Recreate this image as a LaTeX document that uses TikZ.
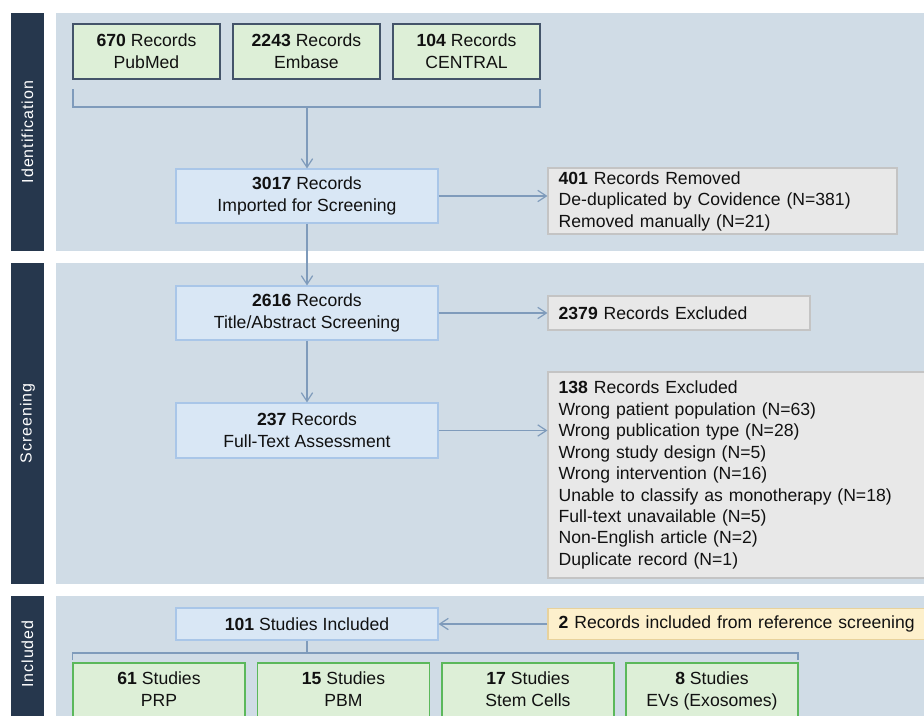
\documentclass[tikz,border=0pt]{standalone}
\usepackage{fontspec}
\setmainfont{Liberation Sans}
\newfontfamily\sidefont[LetterSpace=6]{Liberation Sans}
\usetikzlibrary{arrows.meta}
\definecolor{side}{HTML}{26374D}
\definecolor{panel}{HTML}{D0DCE6}
\definecolor{grn}{HTML}{DDEFD7}
\definecolor{srcb}{HTML}{44546A}
\definecolor{grnb}{HTML}{5BB85B}
\definecolor{blu}{HTML}{D9E7F5}
\definecolor{blub}{HTML}{A9C6E8}
\definecolor{gry}{HTML}{E8E8E8}
\definecolor{gryb}{HTML}{C4C4C4}
\definecolor{yel}{HTML}{FDF0CC}
\definecolor{yelb}{HTML}{E8D29C}
\definecolor{conn}{HTML}{7F9BBB}
\definecolor{txt}{HTML}{111111}
\newcommand\pxu{0.75pt}
\newcommand\bodyfont{\fontsize{13.2pt}{16.5pt}\selectfont}
\newcommand\listfont{\fontsize{13.2pt}{16.1pt}\selectfont}
\newcommand\pardepth{\vphantom{()}}
\tikzset{
  base/.style={rectangle, inner sep=0pt, text=txt, font=\bodyfont},
  srcbox/.style={base, draw=srcb, line width=1pt, fill=grn, minimum width=147*\pxu, minimum height=55*\pxu, align=center},
  resbox/.style={base, draw=grnb, line width=1pt, fill=grn, minimum width=172*\pxu, minimum height=55*\pxu, align=center},
  flowbox/.style={base, draw=blub, line width=0.9pt, fill=blu, minimum width=262*\pxu, align=center},
  exbox/.style={base, draw=gryb, line width=0.8pt, fill=gry, align=left, inner xsep=8pt},
  refbox/.style={base, draw=yelb, line width=0.8pt, fill=yel, align=left, inner xsep=8pt},
  sidelabel/.style={text=white, rotate=90, font=\sidefont\fontsize{12pt}{14pt}\selectfont},
  link/.style={draw=conn, line width=0.9pt},
  arr/.style={link, -{Straight Barb[length=6.5pt, width=8.5pt, line width=0.9pt]}},
}
\begin{document}
\begin{tikzpicture}[x=0.75pt, y=-0.75pt]
\useasboundingbox (0,0) rectangle (924,715);
\clip (0,0) rectangle (924,715);
\fill[white] (0,0) rectangle (924,715);
% panels and sidebars
\fill[side] (11,13) rectangle (44,251);
\fill[side] (11,263) rectangle (44,584);
\fill[side] (11,596) rectangle (44,730);
\fill[panel] (56,13) rectangle (940,251);
\fill[panel] (56,263) rectangle (940,584);
\fill[panel] (56,596) rectangle (940,730);
\node[sidelabel] (lid) at (27.5,132) {Identification};
\node[sidelabel] (lsc) at (27.5,423.5) {Screening};
\node[sidelabel] (lin) at (27.5,654) {Included};
% identification
\node[srcbox] (pub) at (146.5,51.5) {\textbf{670} Records\\PubMed};
\node[srcbox] (emb) at (306.5,51.5) {\textbf{2243} Records\\Embase};
\node[srcbox] (cen) at (466.5,51.5) {\textbf{104} Records\\CENTRAL};
\node[flowbox, minimum height=54*\pxu] (imp) at (307,196) {\textbf{3017} Records\\Imported for Screening};
\node[exbox, minimum width=349*\pxu, minimum height=66*\pxu, text width=349*\pxu-16pt, font=\listfont] (rem) at (722.5,201)
  {\textbf{401} Records Removed\\De-duplicated by Covidence (N=381)\\Removed manually (N=21)};
\coordinate (bl1) at (73,89);
\coordinate (bl2) at (73,107);
\coordinate (br2) at (540,107);
\coordinate (br1) at (540,89);
\coordinate (bm) at (307,107);
\draw[link] (bl1) -- (bl2) -- (br2) -- (br1);
\draw[arr] (bm) -- (imp.north);
\draw[arr] (imp.east) -- (imp.east -| rem.west);
% screening
\node[flowbox, minimum height=54*\pxu] (tas) at (307,313) {\textbf{2616} Records\\Title/Abstract Screening};
\node[exbox, minimum width=262*\pxu, minimum height=34*\pxu, text width=262*\pxu-16pt] (ex1) at (679,313)
  {\textbf{2379} Records Excluded};
\node[flowbox, minimum height=55*\pxu] (fta) at (307,430.5) {\textbf{237} Records\\Full-Text Assessment};
\node[exbox, minimum width=387*\pxu, minimum height=206*\pxu, text width=387*\pxu-16pt, font=\listfont] (ex2) at (741.5,475)
  {\textbf{138} Records Excluded\\Wrong patient population (N=63)\\Wrong publication type (N=28)\\Wrong study design (N=5)\\Wrong intervention (N=16)\\Unable to classify as monotherapy (N=18)\\Full-text unavailable (N=5)\\Non-English article (N=2)\\Duplicate record (N=1)};
\draw[arr] (imp.south) -- (tas.north);
\draw[arr] (tas.east) -- (ex1.west);
\draw[arr] (tas.south) -- (fta.north);
\draw[arr] (fta.east) -- (fta.east -| ex2.west);
% included
\node[flowbox, minimum height=32*\pxu] (inc) at (307,624) {\textbf{101} Studies Included};
\node[refbox, minimum width=392*\pxu, minimum height=31*\pxu, text width=392*\pxu-16pt] (ref) at (744,624)
  {\textbf{2} Records included from reference screening};
\draw[arr] (ref.west) -- (ref.west -| inc.east);
\node[resbox] (prp) at (159,690.5) {\textbf{61} Studies\\PRP\pardepth};
\node[resbox] (pbm) at (343.5,690.5) {\textbf{15} Studies\\PBM\pardepth};
\node[resbox] (stc) at (528,690.5) {\textbf{17} Studies\\Stem Cells\pardepth};
\node[resbox] (evs) at (712,690.5) {\textbf{8} Studies\\EVs (Exosomes)};
\coordinate (qm) at (307,653);
\coordinate (ql1) at (72.5,660);
\coordinate (ql2) at (72.5,653);
\coordinate (qr2) at (798,653);
\coordinate (qr1) at (798,660);
\draw[link] (inc.south) -- (qm);
\draw[link] (ql1) -- (ql2) -- (qr2) -- (qr1);
\end{tikzpicture}
\end{document}
